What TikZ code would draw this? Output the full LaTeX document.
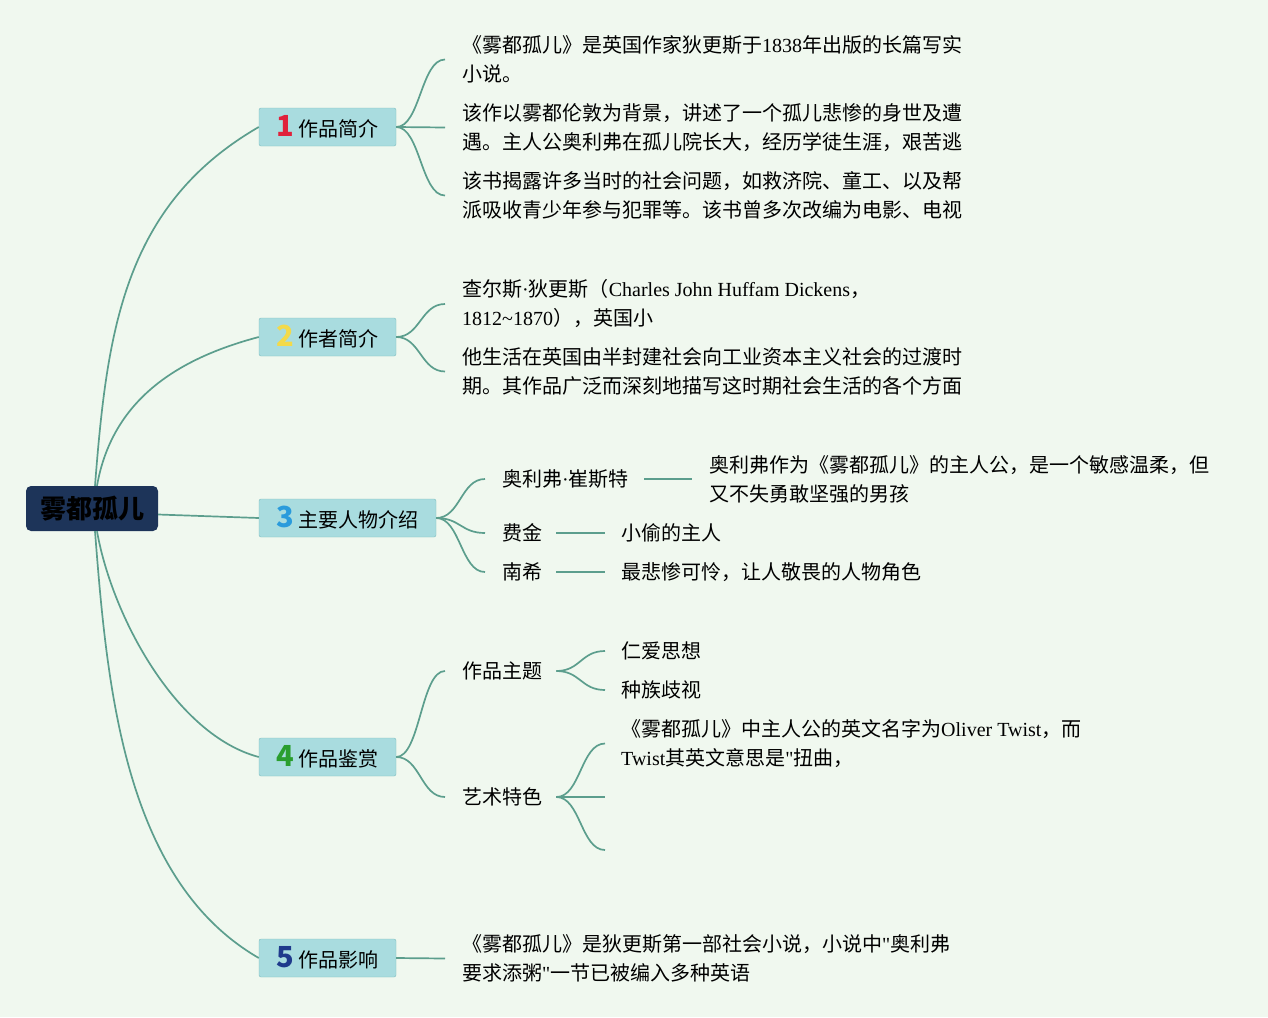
\documentclass[tikz,border=0pt]{standalone}
\usepackage{fontspec}
\setmainfont{Noto Sans CJK SC}
\newfontfamily\serifl{Liberation Serif}
\newcommand\eng[1]{{\serifl #1}}
\usetikzlibrary{positioning}
\definecolor{mmBack}{HTML}{F0F8EF}
\definecolor{mmRoot}{HTML}{1D3459}
\definecolor{mmBranch}{HTML}{A9DCDF}
\definecolor{mmEdge}{HTML}{7FBDBF}
\definecolor{mmLine}{HTML}{5C9E8D}
\definecolor{mmRed}{HTML}{E0213B}
\definecolor{mmYellow}{HTML}{F3DA4A}
\definecolor{mmBlue}{HTML}{2A9BDC}
\definecolor{mmGreen}{HTML}{2A9E2E}
\definecolor{mmNavy}{HTML}{1F3A8C}
\newcommand\bnum[2]{{\color{#1}\fontsize{29}{29}\selectfont\bfseries #2}\hspace{5pt}}
\tikzset{
  rootnode/.style={
    fill=mmRoot, rounded corners=5pt, minimum width=132pt, minimum height=45pt,
    font=\fontsize{26}{30}\selectfont\bfseries, text=black
  },
  branch/.style={
    draw=mmEdge, fill=mmBranch, rounded corners=2pt, minimum height=38pt,
    inner xsep=0pt, font=\fontsize{20}{24}\selectfont
  },
  leaf/.style={anchor=west, inner sep=0pt, align=left, font=\fontsize{20}{29}\selectfont},
  link/.style={draw=mmLine, line width=1.7pt}
}
\begin{document}
\begin{tikzpicture}[x=1pt,y=-1pt]
  \fill[mmBack] (0,0) rectangle (1268,1017);
  \useasboundingbox (0,0) rectangle (1268,1017);
  % root and main branches
  \node[rootnode] (root) at (92,508.5) {雾都孤儿};
  \node[branch, minimum width=137pt] (intro) at (327.5,127) {\bnum{mmRed}{1}作品简介};
  \node[branch, minimum width=137pt] (author) at (327.5,337) {\bnum{mmYellow}{2}作者简介};
  \node[branch, minimum width=177pt] (chars) at (347.5,518) {\bnum{mmBlue}{3}主要人物介绍};
  \node[branch, minimum width=137pt] (review) at (327.5,757) {\bnum{mmGreen}{4}作品鉴赏};
  \node[branch, minimum width=137pt] (impact) at (327.5,958) {\bnum{mmNavy}{5}作品影响};
  \draw[link] ([xshift=3pt]root.north) .. controls +(12,-155) and +(-135,78) .. (intro.west);
  \draw[link] ([xshift=5pt]root.north) .. controls +(15,-85) and +(-83,22) .. (author.west);
  \draw[link] ([yshift=-6pt]root.east) -- (chars.west);
  \draw[link] ([xshift=5pt]root.south) .. controls +(15,85) and +(-83,-22) .. (review.west);
  \draw[link] ([xshift=3pt]root.south) .. controls +(12,155) and +(-135,-78) .. (impact.west);

  % 1 作品简介
  \node[leaf] (introA) at (462,59.5) {《雾都孤儿》是英国作家狄更斯于\eng{1838}年出版的长篇写实\\小说。};
  \node[leaf] (introB) at (462,127.5) {该作以雾都伦敦为背景，讲述了一个孤儿悲惨的身世及遭\\遇。主人公奥利弗在孤儿院长大，经历学徒生涯，艰苦逃};
  \node[leaf] (introC) at (462,195.5) {该书揭露许多当时的社会问题，如救济院、童工、以及帮\\派吸收青少年参与犯罪等。该书曾多次改编为电影、电视};
  \foreach \n in {introA,introB,introC}
    \draw[link] (intro.east) .. controls +(24,0) and +(-24,0) .. ([xshift=-17pt]\n.west);

  % 2 作者简介
  \node[leaf] (authorA) at (462,304) {查尔斯\eng{·}狄更斯（\eng{Charles John Huffam Dickens}，\\\eng{1812\char"7E 1870}），英国小};
  \node[leaf] (authorB) at (462,371.5) {他生活在英国由半封建社会向工业资本主义社会的过渡时\\期。其作品广泛而深刻地描写这时期社会生活的各个方面};
  \foreach \n in {authorA,authorB}
    \draw[link] (author.east) .. controls +(24,0) and +(-24,0) .. ([xshift=-17pt]\n.west);

  % 3 主要人物介绍
  \node[leaf] (oliver) at (502,479) {奥利弗\eng{·}崔斯特};
  \node[leaf] (fagin) at (502,533) {费金};
  \node[leaf] (nancy) at (502,572) {南希};
  \foreach \n in {oliver,fagin,nancy}
    \draw[link] (chars.east) .. controls +(24,0) and +(-24,0) .. ([xshift=-17pt]\n.west);
  \node[leaf] (oliverD) at (709,479) {奥利弗作为《雾都孤儿》的主人公，是一个敏感温柔，但\\又不失勇敢坚强的男孩};
  \node[leaf] (faginD) at (621,533) {小偷的主人};
  \node[leaf] (nancyD) at (621,572) {最悲惨可怜，让人敬畏的人物角色};
  \draw[link] ([xshift=15pt]oliver.east) -- ([xshift=-17pt]oliverD.west);
  \draw[link] ([xshift=14pt]fagin.east) -- ([xshift=-16pt]faginD.west);
  \draw[link] ([xshift=14pt]nancy.east) -- ([xshift=-16pt]nancyD.west);

  % 4 作品鉴赏
  \node[leaf] (theme) at (462,671) {作品主题};
  \node[leaf] (art) at (462,797) {艺术特色};
  \foreach \n in {theme,art}
    \draw[link] (review.east) .. controls +(24,0) and +(-24,0) .. ([xshift=-17pt]\n.west);
  \node[leaf] (love) at (621,651) {仁爱思想};
  \node[leaf] (race) at (621,690) {种族歧视};
  \foreach \n in {love,race}
    \draw[link] ([xshift=14pt]theme.east) .. controls +(24,0) and +(-24,0) .. ([xshift=-16pt]\n.west);
  \node[leaf] (artA) at (621,743.5) {《雾都孤儿》中主人公的英文名字为\eng{Oliver Twist}，而\\\eng{Twist}其英文意思是\eng{"}扭曲，};
  \coordinate (artB) at (605,797);
  \coordinate (artC) at (605,850);
  \draw[link] ([xshift=14pt]art.east) .. controls +(24,0) and +(-24,0) .. ([xshift=-16pt]artA.west);
  \foreach \n in {artB,artC}
    \draw[link] ([xshift=14pt]art.east) .. controls +(24,0) and +(-24,0) .. (\n);

  % 5 作品影响
  \node[leaf] (impactA) at (462,958.5) {《雾都孤儿》是狄更斯第一部社会小说，小说中\eng{"}奥利弗\\要求添粥\eng{"}一节已被编入多种英语};
  \draw[link] (impact.east) -- ([xshift=-17pt]impactA.west);
\end{tikzpicture}
\end{document}
